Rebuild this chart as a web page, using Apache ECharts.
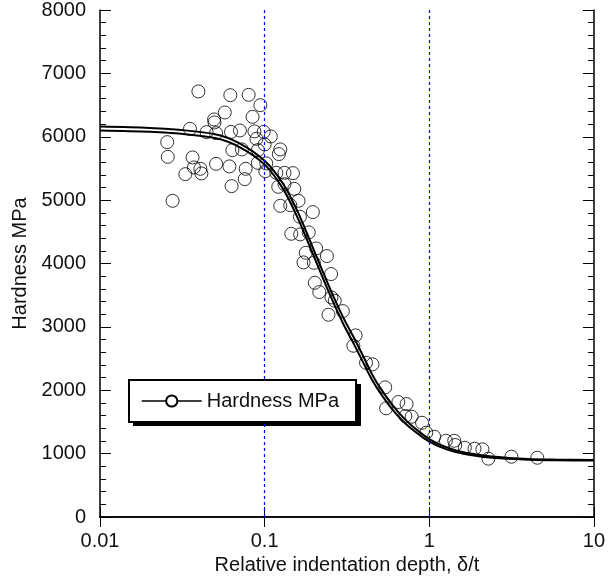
<!DOCTYPE html>
<html>
<head>
<meta charset="utf-8">
<script src="https://cdn.jsdelivr.net/npm/echarts@6/dist/echarts.min.js"></script>
<style>html,body{margin:0;padding:0;background:#fff}#c{width:608px;height:583px}</style>
</head>
<body>
<div id="c"></div>
<script>
// Measured data points: [relative depth δ/t, hardness MPa]
const measuredX = [0.0396,0.0619,0.080,0.0942,0.0573,0.0493,0.0496,0.0845,0.0352,0.0444,0.0507,0.0625,0.0708,0.0867,0.0987,0.0892,0.109,0.100,0.0256,0.0258,0.0637,0.0727,0.091,0.1245,0.122,0.0365,0.0372,0.0407,0.0413,0.033,0.0507,0.0611,0.0767,0.091,0.1023,0.1010,0.0757,0.0630,0.0276,0.1178,0.132,0.1486,0.121,0.132,0.1514,0.1607,0.1245,0.1432,0.1963,0.1637,0.1452,0.1644,0.1853,0.1778,0.2056,0.2389,0.1722,0.199,0.2535,0.2018,0.2148,0.2547,0.2667,0.2986,0.2443,0.357,0.346,0.413,0.452,0.540,0.649,0.728,0.547,0.716,0.782,0.904,0.959,1.072,1.262,1.418,1.438,1.645,1.883,2.104,2.287,3.155,4.53];
const measuredY = [6715,6656,6661,6498,6383,6273,6226,6314,6125,6073,6057,6077,6099,6084,6077,5967,6005,5879,5915,5683,5789,5800,5789,5800,5726,5674,5516,5494,5421,5410,5573,5532,5494,5588,5579,5457,5331,5221,4989,5431,5431,5426,5210,5252,5178,4989,4910,4921,4811,4737,4469,4459,4491,4169,4238,4117,4017,4011,3833,3696,3549,3465,3412,3249,3191,2866,2702,2434,2409,2046,1814,1782,1715,1593,1582,1487,1330,1267,1203,1203,1136,1093,1077,1068,920,951,935];

// Fitted curves
const fitX  = [0.01,0.02,0.03,0.05,0.07,0.1,0.13,0.16,0.2,0.25,0.3,0.35,0.4,0.45,0.5,0.6,0.7,0.8,1.0,1.3,1.7,2.5,4,6,10];
const fitAY = [6160,6140,6110,6040,5900,5620,5250,4800,4200,3600,3150,2820,2520,2250,2050,1760,1560,1420,1230,1090,1010,950,915,905,900];
const fitBY = [6100,6080,6050,5980,5840,5560,5170,4700,4100,3500,3050,2720,2420,2160,1970,1690,1500,1370,1190,1060,985,930,905,895,890];

const xTicks = [0.01,0.1,1,10];
const refLinesX = [0.1,1];
const seriesName = 'Hardness MPa';

const FONT = 'Liberation Sans, Arial, Helvetica, sans-serif';
const chart = echarts.init(document.getElementById('c'), null, {renderer:'canvas'});

const zip = (xs, ys) => xs.map((x,i)=>[x, ys[i]]);
const fmtX = v => { const r = xTicks.find(t => Math.abs(Math.log10(v) - Math.log10(t)) < 1e-6); return r !== undefined ? String(r) : ''; };

chart.setOption({
  animation:false,
  backgroundColor:'#fff',
  textStyle:{fontFamily:FONT},
  grid:{left:100, right:12, top:10, bottom:66},
  graphic:[{
    type:'rect', left:133, top:384, z:5, zlevel:0,
    shape:{width:228, height:42},
    style:{fill:'#000'}
  }],
  legend:{
    data:[seriesName],
    left:129, top:380, z:10,
    padding:[11,17,11,12],
    itemWidth:60, itemHeight:14, itemGap:7,
    backgroundColor:'#fff', borderColor:'#000', borderWidth:2, borderRadius:0,
    textStyle:{fontSize:20, color:'#111', fontFamily:FONT},
    lineStyle:{width:1.5, color:'#000'},
    itemStyle:{borderWidth:1}
  },
  xAxis:[{
    type:'log', logBase:10, min:0.01, max:10,
    name:'Relative indentation depth, δ/t', nameLocation:'middle', nameGap:38,
    nameTextStyle:{fontSize:20, color:'#111', fontFamily:FONT},
    axisLine:{show:true, lineStyle:{color:'#000', width:1.5}},
    axisTick:{show:true, inside:true, length:10, lineStyle:{color:'#000'}},
    minorTick:{show:false},
    axisLabel:{fontSize:20, color:'#111', margin:14, formatter:fmtX},
    splitLine:{show:false}
  },{
    type:'log', logBase:10, min:0.01, max:10, position:'top',
    axisLine:{show:true, lineStyle:{color:'#000', width:1.5}},
    axisTick:{show:true, inside:true, length:10, lineStyle:{color:'#000'}},
    axisLabel:{show:false}, splitLine:{show:false}
  }],
  yAxis:[{
    type:'value', min:0, max:8000, interval:1000,
    name:'Hardness MPa', nameLocation:'middle', nameGap:70,
    nameTextStyle:{fontSize:20, color:'#111', fontFamily:FONT},
    axisLine:{show:true, lineStyle:{color:'#000', width:1.5}},
    axisTick:{show:true, inside:true, length:11, lineStyle:{color:'#000'}},
    minorTick:{show:true, splitNumber:5, length:6, lineStyle:{color:'#000'}},
    axisLabel:{fontSize:20, color:'#111', margin:14, formatter:v=>String(v)},
    splitLine:{show:false}
  },{
    type:'value', min:0, max:8000, interval:1000, position:'right',
    axisLine:{show:true, lineStyle:{color:'#000', width:1.5}},
    axisTick:{show:true, inside:true, length:11, lineStyle:{color:'#000'}},
    minorTick:{show:true, splitNumber:5, length:6, lineStyle:{color:'#000'}},
    axisLabel:{show:false}, splitLine:{show:false}
  }],
  series:[
    {
      name:'fitB', type:'line', data:zip(fitX, fitBY), smooth:0.3,
      showSymbol:false, symbol:'none', lineStyle:{color:'#000', width:2}, z:3,
      markLine:{
        silent:true, symbol:['none','none'], label:{show:false},
        lineStyle:{color:'#0000ff', type:[3,3], width:1.2},
        emphasis:{disabled:true},
        data: refLinesX.map(v=>({xAxis:v, lineStyle:{color:'#0000ff'}}))
      }
    },
    {
      name:seriesName, type:'line', data:zip(fitX, fitAY), smooth:0.3,
      showSymbol:false, symbol:'emptyCircle', symbolSize:11,
      itemStyle:{color:'#000'}, lineStyle:{color:'#000', width:2}, z:3
    },
    {
      name:'measured', type:'scatter', data:zip(measuredX, measuredY),
      symbol:'circle', symbolSize:13,
      itemStyle:{color:'rgba(0,0,0,0)', borderColor:'#000', borderWidth:1}, z:4
    }
  ]
});
</script>
</body>
</html>
